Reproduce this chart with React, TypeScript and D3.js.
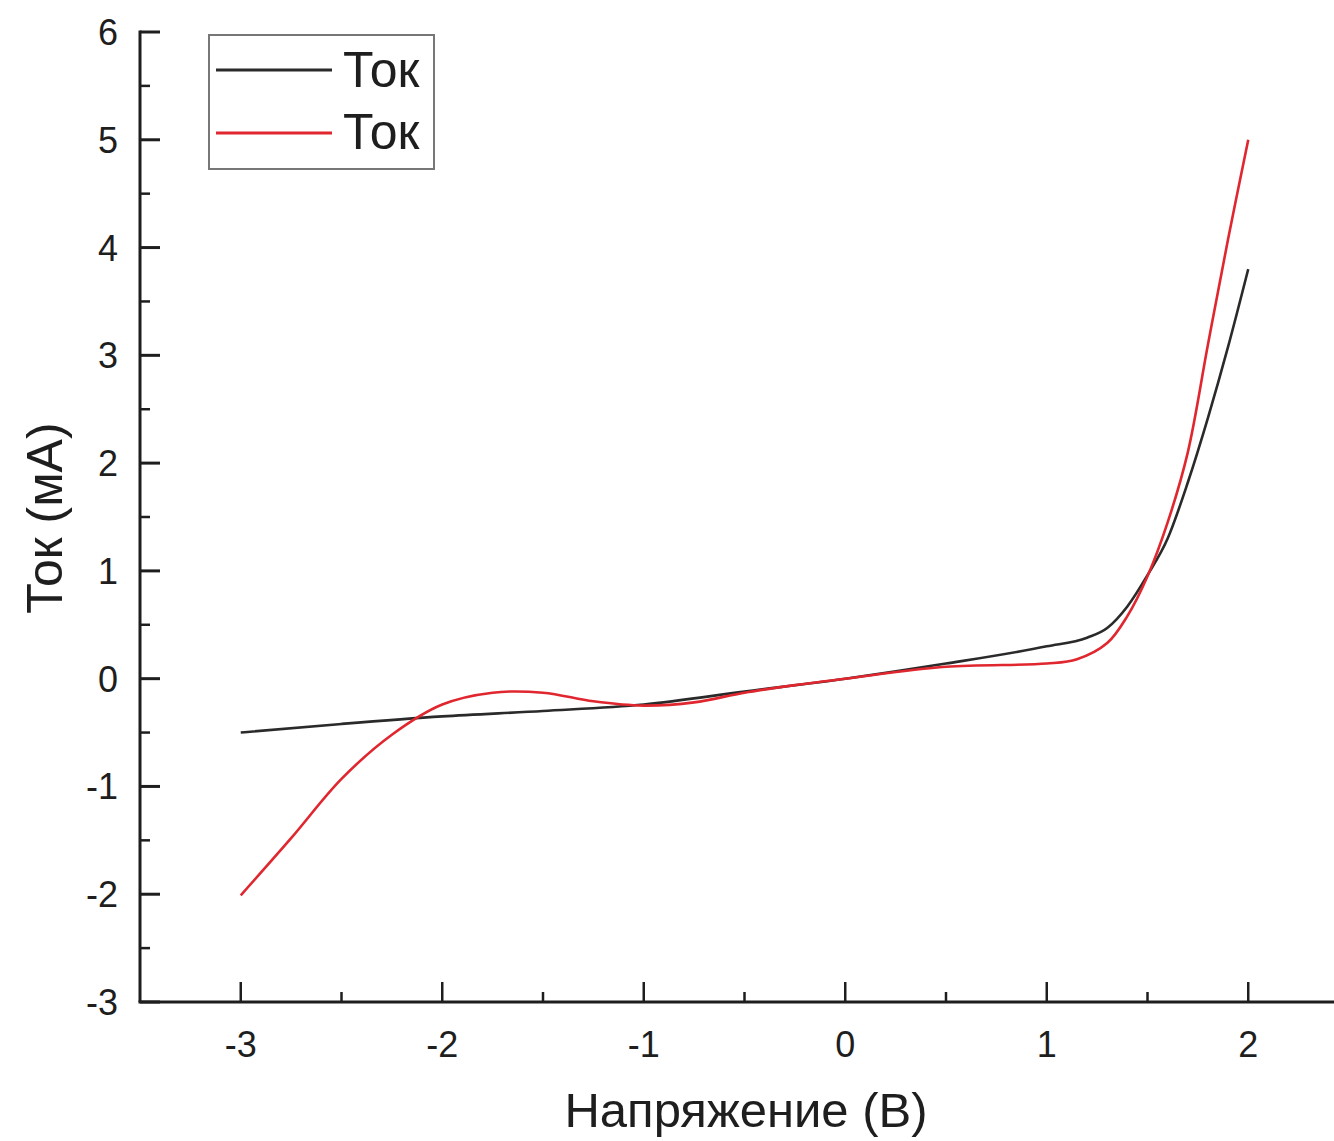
import React from 'react';
import * as d3 from 'd3';

// I-V curves
const blackV = [-3, -2.5, -2, -1.5, -1, -0.5, 0, 0.5, 1, 1.2, 1.3, 1.4, 1.5, 1.6, 1.7, 1.8, 1.9, 2];
const blackI = [-0.5, -0.42, -0.35, -0.3, -0.24, -0.12, 0, 0.14, 0.3, 0.38, 0.47, 0.67, 0.96, 1.3, 1.82, 2.42, 3.08, 3.8];

const redV = [-3, -2.75, -2.5, -2.25, -2, -1.75, -1.5, -1.25, -1, -0.75, -0.5, -0.25, 0, 0.5, 1, 1.15, 1.3, 1.4, 1.5, 1.6, 1.7, 1.8, 1.9, 2];
const redI = [-2.01, -1.48, -0.93, -0.52, -0.24, -0.13, -0.13, -0.21, -0.25, -0.22, -0.13, -0.06, 0, 0.11, 0.14, 0.18, 0.33, 0.58, 0.95, 1.45, 2.1, 3.1, 4.08, 5];

const xTicks = [-3, -2, -1, 0, 1, 2];
const xMinor = [-2.5, -1.5, -0.5, 0.5, 1.5];
const yTicks = [-3, -2, -1, 0, 1, 2, 3, 4, 5, 6];
const yMinor = [-2.5, -1.5, -0.5, 0.5, 1.5, 2.5, 3.5, 4.5, 5.5];

const seriesNames = ['Ток', 'Ток'];
const seriesColors = ['#2a2a2a', '#e0262e'];

const W = 1334;
const H = 1141;
const font = '"Liberation Sans", Arial, sans-serif';
const ink = '#1e1e1e';

export default function App() {
  const x = d3.scaleLinear().domain([-3.5, 2.5]).range([140, 1349]);
  const y = d3.scaleLinear().domain([-3, 6]).range([1002, 32]);

  const lineBlack = d3.line<[number, number]>()
    .x(d => x(d[0]))
    .y(d => y(d[1]))
    .curve(d3.curveMonotoneX);
  const lineRed = d3.line<[number, number]>()
    .x(d => x(d[0]))
    .y(d => y(d[1]))
    .curve(d3.curveCatmullRom.alpha(0.5));

  const black = blackV.map((v, i) => [v, blackI[i]] as [number, number]);
  const red = redV.map((v, i) => [v, redI[i]] as [number, number]);

  const x0 = x.range()[0];
  const y0 = y.range()[0];

  return (
    <svg width={W} height={H} style={{ position: 'absolute', left: 0, top: 0, background: '#fff' }}
      fontFamily={font}>
      {/* curves */}
      <path d={lineBlack(black) || ''} fill="none" stroke={seriesColors[0]} strokeWidth={2.6} />
      <path d={lineRed(red) || ''} fill="none" stroke={seriesColors[1]} strokeWidth={2.6} />

      {/* y axis */}
      <line x1={x0} x2={x0} y1={y(6) - 1.5} y2={y0} stroke={ink} strokeWidth={3} />
      {yTicks.map(t => (
        <g key={'y' + t}>
          <line x1={x0} x2={x0 + 20} y1={y(t)} y2={y(t)} stroke={ink} strokeWidth={3} />
          <text x={118} y={y(t)} dy="0.36em" textAnchor="end" fontSize={36} fill={ink}>{t}</text>
        </g>
      ))}
      {yMinor.map(t => (
        <line key={'ym' + t} x1={x0} x2={x0 + 10} y1={y(t)} y2={y(t)} stroke={ink} strokeWidth={2.5} />
      ))}

      {/* x axis */}
      <line x1={x0 - 1.5} x2={W} y1={y0} y2={y0} stroke={ink} strokeWidth={3} />
      {xTicks.map(t => (
        <g key={'x' + t}>
          <line x1={x(t)} x2={x(t)} y1={y0} y2={y0 - 20} stroke={ink} strokeWidth={2.5} />
          <text x={x(t)} y={1057} textAnchor="middle" fontSize={36} fill={ink}>{t}</text>
        </g>
      ))}
      {xMinor.map(t => (
        <line key={'xm' + t} x1={x(t)} x2={x(t)} y1={y0} y2={y0 - 10} stroke={ink} strokeWidth={2.5} />
      ))}

      {/* axis titles */}
      <text x={746} y={1127} textAnchor="middle" fontSize={49} fill={ink}>Напряжение (В)</text>
      <text transform="translate(62,518) rotate(-90)" textAnchor="middle" fontSize={50} fill={ink}>Ток (мА)</text>

      {/* legend */}
      <rect x={209} y={35} width={225} height={134} fill="#fff" stroke="#777" strokeWidth={2} />
      {seriesNames.map((n, i) => (
        <g key={'lg' + i}>
          <line x1={216} x2={332} y1={70 + i * 63} y2={70 + i * 63} stroke={seriesColors[i]} strokeWidth={3} />
          <text x={343} y={87 + i * 62} fontSize={50} fill={ink}>{n}</text>
        </g>
      ))}
    </svg>
  );
}
